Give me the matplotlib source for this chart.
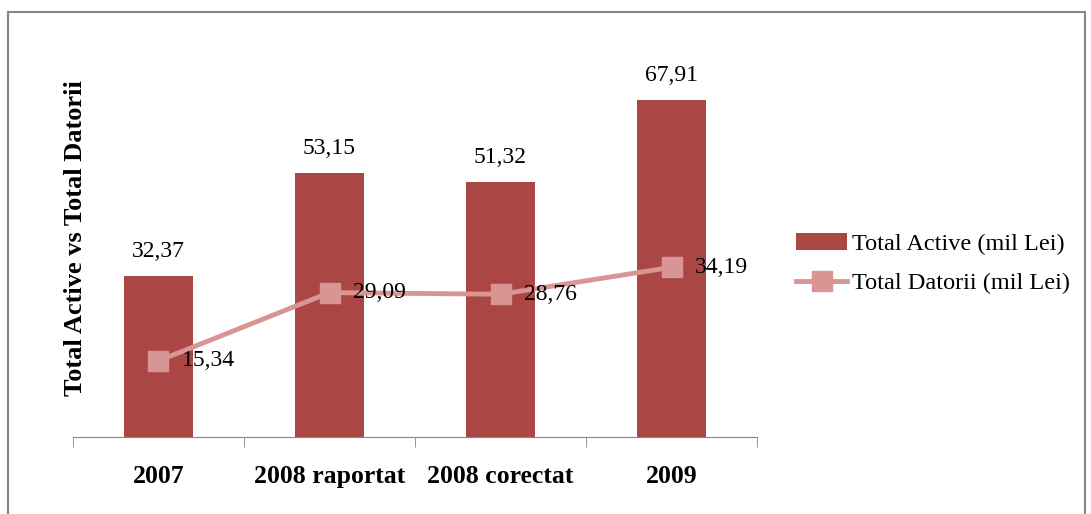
import matplotlib.pyplot as plt
import numpy as np
from matplotlib.patches import Rectangle

categories = ['2007', '2008 raportat', '2008 corectat', '2009']
total_active = [32.37, 53.15, 51.32, 67.91]
total_datorii = [15.34, 29.09, 28.76, 34.19]

bar_color = '#AA4745'
line_color = '#D99594'

plt.rcParams['font.family'] = ['Liberation Serif', 'DejaVu Serif']


def fmt(v):
    return f'{v:.2f}'.replace('.', ',')


def main():
    fig = plt.figure(figsize=(10.91, 5.14), dpi=100)
    ax = fig.add_axes([0.0669, 0.150, 0.627, 0.772])

    x = np.arange(len(categories))
    bars = ax.bar(x, total_active, width=0.4, color=bar_color, label='Total Active (mil Lei)', zorder=2)
    line, = ax.plot(x, total_datorii, color=line_color, lw=3.5, marker='s', markersize=14,
                    label='Total Datorii (mil Lei)', zorder=3)

    for xi, v in zip(x, total_active):
        ax.annotate(fmt(v), (xi, v), xytext=(0, 18), textcoords='offset points',
                    ha='center', va='center', fontsize=17)
    for xi, v in zip(x, total_datorii):
        ax.annotate(fmt(v), (xi, v), xytext=(17, 0), textcoords='offset points',
                    ha='left', va='center', fontsize=17)

    ax.set_xlim(-0.5, len(categories) - 0.5)
    ax.set_ylim(0, 80)
    ax.set_yticks([])
    for s in ['top', 'right', 'left']:
        ax.spines[s].set_visible(False)
    ax.spines['bottom'].set_color('#868686')
    ax.set_xticks(np.arange(len(categories) + 1) - 0.5, minor=True)
    ax.tick_params(axis='x', which='minor', length=7, color='#868686')
    ax.tick_params(axis='x', which='major', length=0, pad=20)
    ax.set_xticks(x)
    ax.set_xticklabels(categories, fontsize=18.5, fontweight='bold')

    ax.set_ylabel('Total Active vs Total Datorii', fontsize=19, fontweight='bold')
    ax.yaxis.set_label_coords(0.02, 0.5)

    fig.legend([bars, line], ['Total Active (mil Lei)', 'Total Datorii (mil Lei)'],
               loc='center left', bbox_to_anchor=(796 / 1091, 1 - 264 / 514), frameon=False,
               borderpad=0, borderaxespad=0, fontsize=17.5, handlelength=2.1,
               labelspacing=0.7, handletextpad=0.2)

    fig.patches.append(Rectangle((0.0075, -0.1), 0.987, 1.077, transform=fig.transFigure,
                                 fill=False, edgecolor='#868686', lw=1.5))

    fig.savefig('out.png', dpi=100)


if __name__ == "__main__":
    main()
